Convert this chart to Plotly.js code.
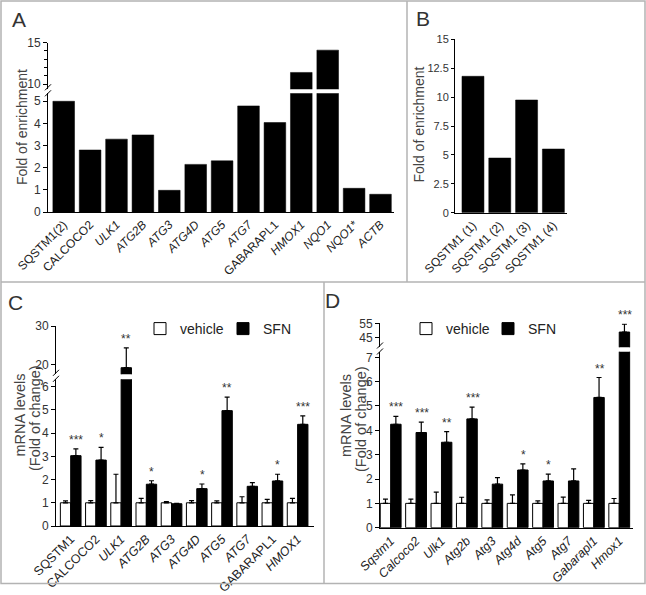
<!DOCTYPE html>
<html><head><meta charset="utf-8">
<script src="https://cdn.plot.ly/plotly-3.0.1.min.js"></script>
<style>html,body{margin:0;padding:0;background:#fff}#chart{width:646px;height:595px}</style>
</head><body><div id="chart"></div>
<script>
// ---------- Panel A ----------
const catsA = ["SQSTM1(2)","CALCOCO2","ULK1","ATG2B","ATG3","ATG4D","ATG5","ATG7","GABARAPL1","HMOX1","NQO1","NQO1*","ACTB"];
const italicA = [false,false,true,true,true,true,true,true,false,true,true,true,true];
const valsA = [5.0,2.8,3.29,3.48,0.98,2.15,2.31,4.79,4.04,11.4,14.1,1.07,0.8];
// ---------- Panel B ----------
const catsB = ["SQSTM1 (1)","SQSTM1 (2)","SQSTM1 (3)","SQSTM1 (4)"];
const valsB = [11.8,4.73,9.75,5.51];
// ---------- Panel C ----------
const catsC = ["SQSTM1","CALCOCO2","ULK1","ATG2B","ATG3","ATG4D","ATG5","ATG7","GABARAPL1","HMOX1"];
const italicC = [false,false,true,true,true,true,true,true,false,true];
const vehC = [1,1,1,1,1,1,1,1,1,1];
const vehErrC = [0.08,0.09,1.23,0.19,0.05,0.09,0.08,0.26,0.15,0.19];
const sfnC = [3.03,2.84,19.3,1.80,0.96,1.61,4.97,1.71,1.94,4.38];
const sfnErrC = [0.29,0.55,5.1,0.15,0.02,0.20,0.58,0.16,0.29,0.36];
const sigC = ["***","*","**","*","","*","**","","*","***"];
// ---------- Panel D ----------
const catsD = ["Sqstm1","Calcoco2","Ulk1","Atg2b","Atg3","Atg4d","Atg5","Atg7","Gabarapl1","Hmox1"];
const vehD = [1,1,1,1,1,1,1,1,1,1];
const vehErrD = [0.17,0.17,0.46,0.25,0.14,0.35,0.10,0.26,0.12,0.20];
const sfnD = [4.25,3.91,3.51,4.47,1.79,2.37,1.92,1.92,5.35,49];
const sfnErrD = [0.32,0.43,0.44,0.48,0.27,0.25,0.28,0.50,0.82,5.8];
const sigD = ["***","***","**","***","","*","*","","**","***"];

const W = 646, H = 595;
const fx = p => p / W, fy = p => 1 - p / H;
const FONT = 'Arial, "Liberation Sans", sans-serif';
const zeros = n => new Array(n).fill(0);
const ital = (names, flags) => names.map((n, i) => flags[i] ? '<i>' + n + '</i>' : n);

const yBase = () => ({showgrid:false, zeroline:false, showline:true, linecolor:'#000', linewidth:1,
  ticks:'outside', ticklen:4, tickwidth:1, tickcolor:'#000',
  tickfont:{family:FONT, size:12, color:'#333'}, fixedrange:true});
const xBase = () => ({type:'category', showgrid:false, zeroline:false, showline:true, linecolor:'#000',
  linewidth:1, ticks:'', tickangle:-45, tickfont:{family:FONT, size:12, color:'#222'}, fixedrange:true});

const rangesC = {low:[0,6.32], high:[17.6,30]};
const rangesD = {low:[0,7.23], high:[37.7,55.5]};
const legFont = {family:FONT, size:14, color:'#222'};

const layout = {
  width:W, height:H, margin:{l:0,r:0,t:0,b:0}, paper_bgcolor:'#fff', plot_bgcolor:'rgba(0,0,0,0)',
  barmode:'group', bargap:0.18, bargroupgap:0, font:{family:FONT, color:'#333'},
  // A
  xaxis: Object.assign(xBase(), {domain:[fx(48), fx(393.7)], range:[-0.595,12.5], anchor:'y',
    tickvals:catsA, ticktext:ital(catsA, italicA)}),
  yaxis: Object.assign(yBase(), {domain:[fy(212), fy(93.3)], range:[0,5.36], dtick:1, anchor:'x'}),
  yaxis2: Object.assign(yBase(), {domain:[fy(89.3), fy(42.7)], range:[9.36,15], tickvals:[10,15], anchor:'x',
    minor:{dtick:1, tick0:0, ticks:'outside', ticklen:3, tickcolor:'#000', showgrid:false}}),
  // B
  xaxis2: Object.assign(xBase(), {domain:[fx(455), fx(566.8)], range:[-0.67,3.5], anchor:'y3'}),
  yaxis3: Object.assign(yBase(), {domain:[fy(212.7), fy(39.3)], range:[0,15], dtick:2.5, anchor:'x2',
    ticklen:3, tickfont:{family:FONT, size:11, color:'#333'}}),
  // C
  xaxis3: Object.assign(xBase(), {domain:[fx(56), fx(314)], range:[-0.583,9.65], anchor:'y4',
    tickvals:catsC, ticktext:ital(catsC, italicC), tickfont:{family:FONT, size:12.5, color:'#222'}}),
  yaxis4: Object.assign(yBase(), {domain:[fy(526), fy(379.3)], range:rangesC.low, dtick:1, anchor:'x3'}),
  yaxis5: Object.assign(yBase(), {domain:[fy(374.3), fy(326)], range:rangesC.high, tickvals:[20,30], anchor:'x3'}),
  // D
  xaxis4: Object.assign(xBase(), {domain:[fx(380), fx(632.7)], range:[-0.42,9.53], anchor:'y6',
    tickvals:catsD, ticktext:catsD.map(n => '<i>' + n + '</i>'), tickfont:{family:FONT, size:12.5, color:'#222'}}),
  yaxis6: Object.assign(yBase(), {domain:[fy(527.7), fy(351.7)], range:rangesD.low, dtick:1, anchor:'x4'}),
  yaxis7: Object.assign(yBase(), {domain:[fy(347.3), fy(323.3)], range:rangesD.high, tickvals:[45,55], anchor:'x4'}),
  legend: {x:fx(140), y:fy(329), xanchor:'left', yanchor:'middle', orientation:'h', font:legFont,
    bgcolor:'rgba(0,0,0,0)', borderwidth:0, itemwidth:30, entrywidth:38},
  legend2: {x:fx(406), y:fy(329), xanchor:'left', yanchor:'middle', orientation:'h', font:legFont,
    bgcolor:'rgba(0,0,0,0)', borderwidth:0, itemwidth:30, entrywidth:37},
  annotations: [], shapes: []
};

// Panel letters
[['A',18.5,19],['B',422.5,18.5],['C',15.5,302],['D',332.5,300.5]].forEach(([t,x,y]) =>
  layout.annotations.push({text:t, xref:'paper', yref:'paper', x:fx(x), y:fy(y), showarrow:false,
    xanchor:'center', yanchor:'middle', font:{family:FONT, size:21, color:'#333'}}));
// Y titles (one annotation per line)
const ytitles = [
  ['Fold of enrichment', 22, 127, 14],
  ['Fold of enrichment', 418.5, 125, 14],
  ['mRNA levels', 19.5, 415, 14.5],
  ['(Fold of change)', 35, 418, 14.5],
  ['mRNA levels', 346, 416, 14.5],
  ['(Fold of change)', 361, 419, 14.5]
];
ytitles.forEach(([t,x,y,s]) => layout.annotations.push({text:t, xref:'paper', yref:'paper', x:fx(x), y:fy(y),
  textangle:-90, showarrow:false, xanchor:'center', yanchor:'middle', font:{family:FONT, size:s, color:'#444'}}));

// Significance stars
function stars(cats, vals, errs, sig, xref, yLow, yHigh, lowMax, shift) {
  cats.forEach((c, i) => {
    if (!sig[i]) return;
    const top = vals[i] + errs[i];
    layout.annotations.push({text:sig[i], xref:xref, yref: top > lowMax ? yHigh : yLow, x:c, y:top,
      showarrow:false, yanchor:'bottom', xshift:shift, font:{family:FONT, size:12, color:'#333'}});
  });
}
stars(catsC, sfnC, sfnErrC, sigC, 'x3', 'y4', 'y5', rangesC.low[1], 5.3);
stars(catsD, sfnD, sfnErrD, sigD, 'x4', 'y6', 'y7', rangesD.low[1], 5.7);

// Panel borders
const bc = '#b3b3b3';
const ln = (x0,y0,x1,y1,c,w) => ({type:'line', xref:'paper', yref:'paper', x0:fx(x0), y0:fy(y0), x1:fx(x1), y1:fy(y1), line:{color:c, width:w}});
layout.shapes.push({type:'rect', xref:'paper', yref:'paper', x0:fx(1), y0:fy(1), x1:fx(645), y1:fy(583.5), line:{color:bc, width:1.5}});
layout.shapes.push(ln(1,282,645,282,bc,1.5));
layout.shapes.push(ln(407,1,407,282,bc,1.5));
layout.shapes.push(ln(324,282,324,583.5,bc,1.5));
// axis break marks
[[48,91.3],[56,376.8],[380,349.5]].forEach(([x,y]) => {
  layout.shapes.push(ln(x-3, y-1, x+3, y-7, '#000', 1));
  layout.shapes.push(ln(x-3, y+5, x+3, y-1, '#000', 1));
});

// Traces
const traces = [];
const blk = {color:'#000', line:{color:'#000', width:0.5}};
['y','y2'].forEach(ya => traces.push({type:'bar', x:catsA, y:valsA, xaxis:'x', yaxis:ya, marker:blk, showlegend:false}));
traces.push({type:'bar', x:catsB, y:valsB, xaxis:'x2', yaxis:'y3', marker:blk, showlegend:false});

function groupPair(cats, veh, vehErr, sfn, sfnErr, xa, yas, leg) {
  yas.forEach((ya, k) => {
    traces.push({type:'bar', name:'vehicle', x:cats, y:veh, xaxis:xa, yaxis:ya, legend:leg, showlegend:k===0,
      marker:{color:'#fff', line:{color:'#000', width:1}},
      error_y:{type:'data', array:vehErr, arrayminus:zeros(cats.length), symmetric:false, color:'#000', thickness:1.2, width:2.5}});
    traces.push({type:'bar', name:'SFN', x:cats, y:sfn, xaxis:xa, yaxis:ya, legend:leg, showlegend:k===0,
      marker:{color:'#000', line:{color:'#000', width:1}},
      error_y:{type:'data', array:sfnErr, arrayminus:zeros(cats.length), symmetric:false, color:'#000', thickness:1.2, width:2.5}});
  });
}
groupPair(catsC, vehC, vehErrC, sfnC, sfnErrC, 'x3', ['y4','y5'], 'legend');
groupPair(catsD, vehD, vehErrD, sfnD, sfnErrD, 'x4', ['y6','y7'], 'legend2');

Plotly.newPlot('chart', traces, layout, {staticPlot:true, displayModeBar:false});
</script></body></html>
